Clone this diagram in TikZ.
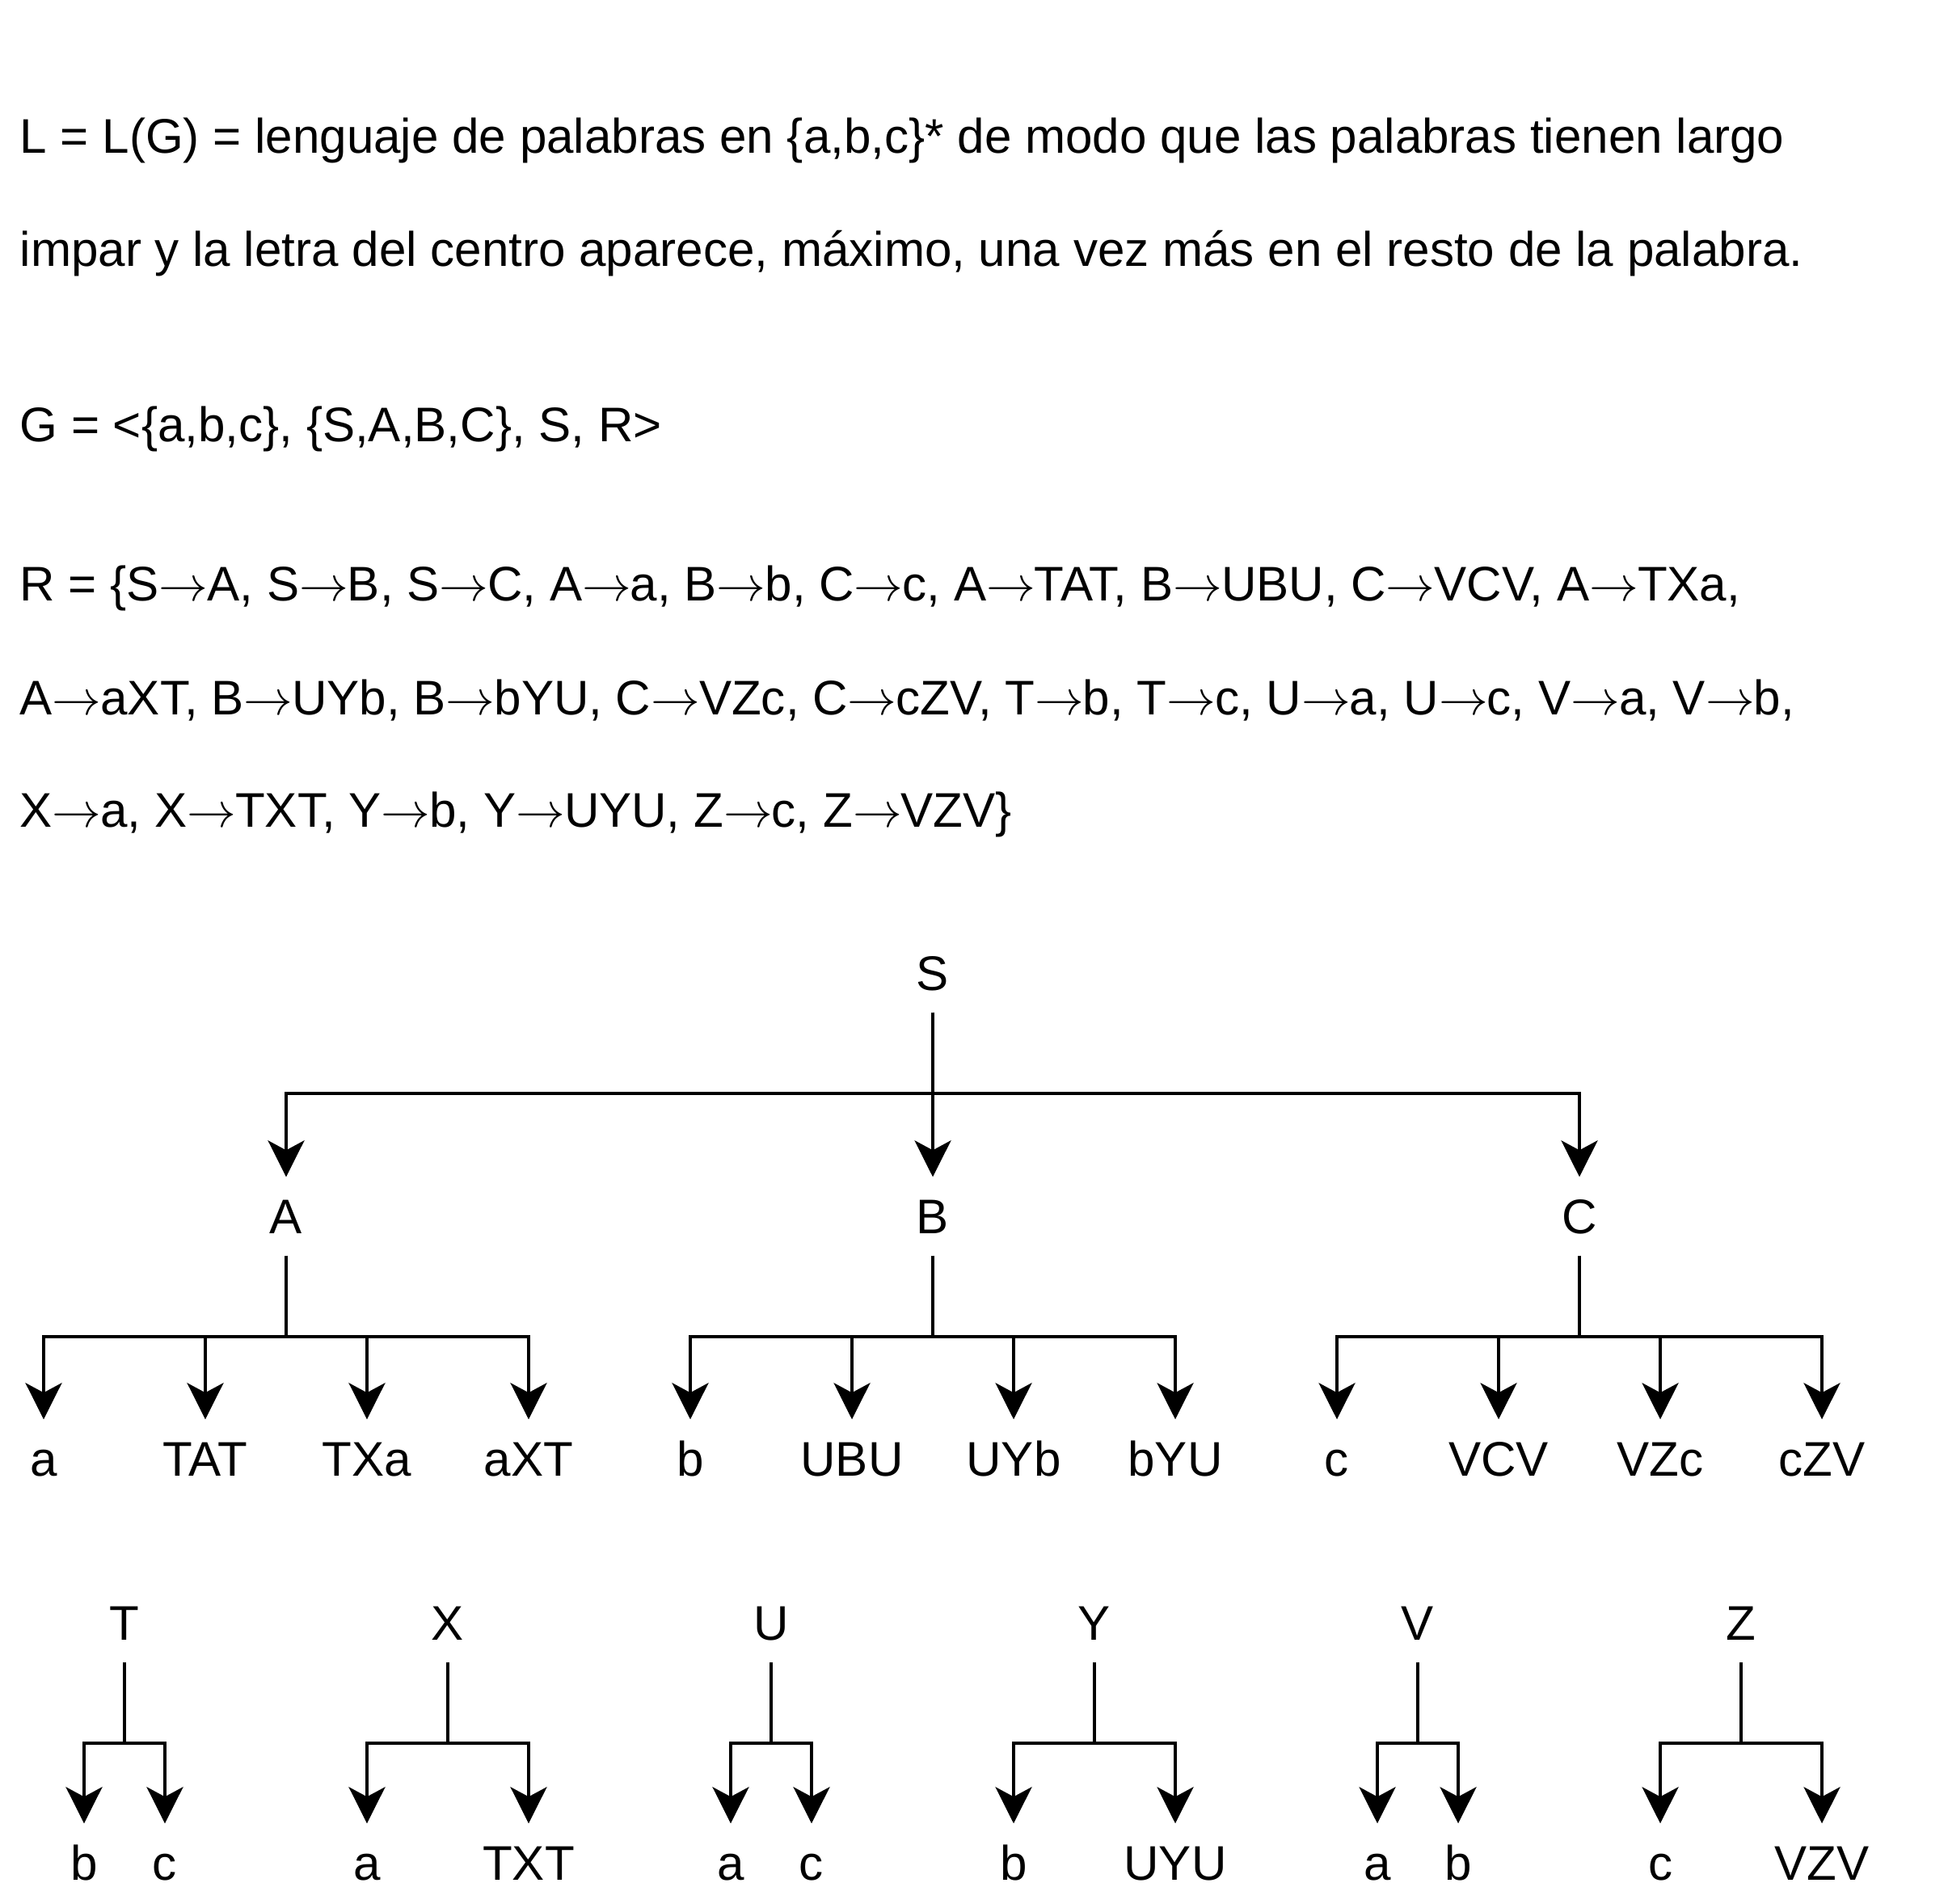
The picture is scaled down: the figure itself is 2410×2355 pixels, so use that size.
\documentclass[tikz,border=0pt]{standalone}
\usepackage{fontspec}
\setmainfont{Liberation Sans}
\usetikzlibrary{arrows.meta}
\newcommand{\goesto}{$\rightarrow$\kern-0.3pt}
\tikzset{
  txt/.style={anchor=base west, inner sep=0, font=\fontsize{17.1}{20}\selectfont},
  sym/.style={inner sep=0, minimum height=0.96cm, text height=0.43cm, text depth=0cm,
    font=\fontsize{17.1}{20}\selectfont},
  tree/.style={-{Stealth[length=0.45cm, width=0.45cm, inset=0.12cm]}, line width=0.04cm,
    to path={(\tikztostart.south) -- ++(0,100) -| (\tikztotarget.north)}}
}
\begin{document}
\begin{tikzpicture}[x=0.01cm, y=-0.01cm]
\useasboundingbox (0,0) rectangle (2410,2355);

% definition of the language and the grammar
\node[txt] (def1) at (24,190) {L = L(G) = lenguaje de palabras en \{a,b,c\}* de modo que las palabras tienen largo};
\node[txt] (def2) at (24,330) {impar y la letra del centro aparece, máximo, una vez más en el resto de la palabra.};
\node[txt] (gram) at (24,546) {G = <\{a,b,c\}, \{S,A,B,C\}, S, R>};
\node[txt] (rul1) at (24,743) {R = \{S\goesto A, S\goesto B, S\goesto C, A\goesto a, B\goesto b, C\goesto c, A\goesto TAT, B\goesto UBU, C\goesto VCV, A\goesto TXa,};
\node[txt] (rul2) at (24,884) {A\goesto aXT, B\goesto UYb, B\goesto bYU, C\goesto VZc, C\goesto cZV, T\goesto b, T\goesto c, U\goesto a, U\goesto c, V\goesto a, V\goesto b,};
\node[txt] (rul3) at (24,1023) {X\goesto a, X\goesto TXT, Y\goesto b, Y\goesto UYU, Z\goesto c, Z\goesto VZV\}};

% start symbol
\node[sym] (S) at (1154,1204) {S};

% 1st level
\foreach \n/\x in {A/354,B/1154,C/1954}
{
\node[sym] (\n) at (\x,1505) {\n};
\draw[tree] (S) to (\n);
}

% 2nd level
\foreach \p/\t/\x in {A/a/54,A/TAT/254,A/TXa/454,A/aXT/654,
  B/b/854,B/UBU/1054,B/UYb/1254,B/bYU/1454,
  C/c/1654,C/VCV/1854,C/VZc/2054,C/cZV/2254}
{
\node[sym] (\p-\t) at (\x,1805) {\t};
\draw[tree] (\p) to (\p-\t);
}

% auxiliary symbols
\foreach \n/\x in {T/154,X/554,U/954,Y/1354,V/1754,Z/2154}
\node[sym] (\n) at (\x,2008) {\n};

\foreach \p/\t/\x in {T/b/104,T/c/204,X/a/454,X/TXT/654,U/a/904,U/c/1004,
  Y/b/1254,Y/UYU/1454,V/a/1704,V/b/1804,Z/c/2054,Z/VZV/2254}
{
\node[sym] (\p-\t) at (\x,2305) {\t};
\draw[tree] (\p) to (\p-\t);
}
\end{tikzpicture}
\end{document}
